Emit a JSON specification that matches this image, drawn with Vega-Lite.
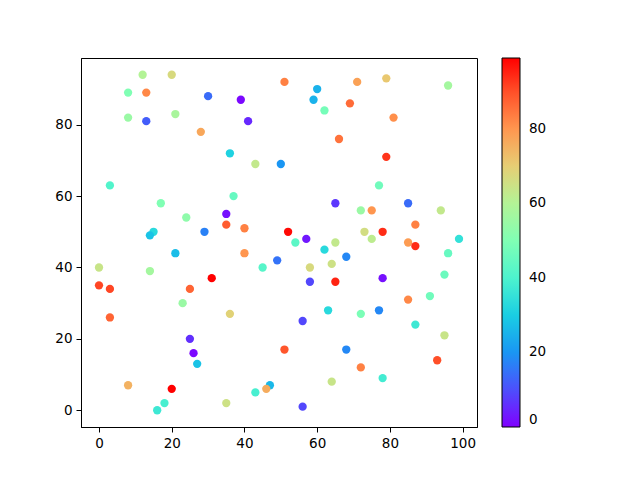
{
  "$schema": "https://vega.github.io/schema/vega-lite/v6.json",
  "autosize": "none",
  "width": 396,
  "height": 369,
  "padding": {"left": 81, "top": 58, "right": 163, "bottom": 53},
  "background": "white",
  "config": {
    "view": {"stroke": "black", "strokeWidth": 1},
    "font": "DejaVu Sans",
    "axis": {
      "grid": false,
      "domainColor": "black",
      "tickColor": "black",
      "tickSize": 5,
      "tickWidth": 1,
      "labelFontSize": 13.5,
      "labelColor": "black",
      "labelPadding": 4,
      "labelFont": "DejaVu Sans",
      "title": null
    }
  },
  "data": {
    "values": [
      {"x": 12, "y": 94, "c": 60}, {"x": 20, "y": 94, "c": 67}, {"x": 8, "y": 89, "c": 50},
      {"x": 13, "y": 89, "c": 82}, {"x": 30, "y": 88, "c": 14}, {"x": 39, "y": 87, "c": 1},
      {"x": 8, "y": 82, "c": 55}, {"x": 13, "y": 81, "c": 12}, {"x": 21, "y": 83, "c": 58},
      {"x": 41, "y": 81, "c": 5}, {"x": 28, "y": 78, "c": 77}, {"x": 36, "y": 72, "c": 31},
      {"x": 43, "y": 69, "c": 63}, {"x": 50, "y": 69, "c": 20}, {"x": 3, "y": 63, "c": 41},
      {"x": 37, "y": 60, "c": 45}, {"x": 17, "y": 58, "c": 50}, {"x": 24, "y": 54, "c": 53},
      {"x": 35, "y": 55, "c": 2}, {"x": 35, "y": 52, "c": 88}, {"x": 40, "y": 51, "c": 83},
      {"x": 29, "y": 50, "c": 17}, {"x": 15, "y": 50, "c": 33}, {"x": 14, "y": 49, "c": 28},
      {"x": 51, "y": 92, "c": 83}, {"x": 60, "y": 90, "c": 25}, {"x": 59, "y": 87, "c": 25},
      {"x": 62, "y": 84, "c": 48}, {"x": 71, "y": 92, "c": 78}, {"x": 79, "y": 93, "c": 71},
      {"x": 96, "y": 91, "c": 57}, {"x": 69, "y": 86, "c": 86}, {"x": 81, "y": 82, "c": 81},
      {"x": 66, "y": 76, "c": 85}, {"x": 79, "y": 71, "c": 93}, {"x": 77, "y": 63, "c": 47},
      {"x": 65, "y": 58, "c": 7}, {"x": 72, "y": 56, "c": 55}, {"x": 75, "y": 56, "c": 80},
      {"x": 85, "y": 58, "c": 14}, {"x": 94, "y": 56, "c": 63}, {"x": 87, "y": 52, "c": 83},
      {"x": 52, "y": 50, "c": 98}, {"x": 57, "y": 48, "c": 3}, {"x": 54, "y": 47, "c": 43},
      {"x": 65, "y": 47, "c": 63}, {"x": 73, "y": 50, "c": 66}, {"x": 75, "y": 48, "c": 62},
      {"x": 78, "y": 50, "c": 94}, {"x": 85, "y": 47, "c": 79}, {"x": 87, "y": 46, "c": 94},
      {"x": 99, "y": 48, "c": 35}, {"x": 21, "y": 44, "c": 27}, {"x": 40, "y": 44, "c": 80},
      {"x": 49, "y": 42, "c": 15}, {"x": 45, "y": 40, "c": 42}, {"x": 0, "y": 40, "c": 64},
      {"x": 14, "y": 39, "c": 57}, {"x": 31, "y": 37, "c": 99}, {"x": 0, "y": 35, "c": 91},
      {"x": 3, "y": 34, "c": 91}, {"x": 25, "y": 34, "c": 87}, {"x": 23, "y": 30, "c": 55},
      {"x": 36, "y": 27, "c": 69}, {"x": 3, "y": 26, "c": 87}, {"x": 25, "y": 20, "c": 6},
      {"x": 26, "y": 16, "c": 1}, {"x": 27, "y": 13, "c": 28}, {"x": 8, "y": 7, "c": 75},
      {"x": 20, "y": 6, "c": 99}, {"x": 47, "y": 7, "c": 26}, {"x": 46, "y": 6, "c": 76},
      {"x": 43, "y": 5, "c": 39}, {"x": 35, "y": 2, "c": 65}, {"x": 18, "y": 2, "c": 39},
      {"x": 16, "y": 0, "c": 37}, {"x": 62, "y": 45, "c": 33}, {"x": 68, "y": 43, "c": 18},
      {"x": 58, "y": 40, "c": 67}, {"x": 64, "y": 41, "c": 65}, {"x": 58, "y": 36, "c": 9},
      {"x": 65, "y": 36, "c": 95}, {"x": 78, "y": 37, "c": 2}, {"x": 96, "y": 44, "c": 45},
      {"x": 95, "y": 38, "c": 46}, {"x": 85, "y": 31, "c": 82}, {"x": 91, "y": 32, "c": 47},
      {"x": 63, "y": 28, "c": 33}, {"x": 72, "y": 27, "c": 49}, {"x": 77, "y": 28, "c": 18},
      {"x": 56, "y": 25, "c": 9}, {"x": 87, "y": 24, "c": 37}, {"x": 95, "y": 21, "c": 64},
      {"x": 51, "y": 17, "c": 89}, {"x": 68, "y": 17, "c": 18}, {"x": 72, "y": 12, "c": 83},
      {"x": 93, "y": 14, "c": 90}, {"x": 78, "y": 9, "c": 38}, {"x": 64, "y": 8, "c": 64},
      {"x": 56, "y": 1, "c": 9}
    ]
  },
  "mark": {"type": "point", "shape": "circle", "filled": true, "opacity": 1, "size": 69},
  "encoding": {
    "x": {
      "field": "x", "type": "quantitative",
      "scale": {"domain": [-4.95, 103.95], "nice": false, "zero": false},
      "axis": {"values": [0, 20, 40, 60, 80, 100]}
    },
    "y": {
      "field": "y", "type": "quantitative",
      "scale": {"domain": [-4.7, 98.7], "nice": false, "zero": false},
      "axis": {"values": [0, 20, 40, 60, 80]}
    },
    "color": {
      "field": "c", "type": "quantitative",
      "scale": {
        "domain": [0, 10, 20, 30, 40, 50, 60, 70, 80, 90, 99],
        "range": ["#8000ff", "#4d4ffc", "#1a96f3", "#1acee3", "#4df3ce", "#80ffb4", "#b3f396", "#e6ce74", "#ff964f", "#ff4f28", "#ff0000"],
        "interpolate": "rgb"
      },
      "legend": {
        "orient": "none",
        "legendX": 421,
        "legendY": 0,
        "direction": "vertical",
        "title": null,
        "gradientLength": 369,
        "gradientThickness": 18,
        "gradientStrokeColor": "black",
        "gradientStrokeWidth": 1,
        "values": [0, 20, 40, 60, 80],
        "labelFontSize": 13.5,
        "labelFont": "DejaVu Sans",
        "labelColor": "black",
        "labelOffset": 9,
        "labelOverlap": false,
        "encode": {
          "labels": {"update": {"baseline": {"value": "middle"}}}
        }
      }
    }
  }
}
